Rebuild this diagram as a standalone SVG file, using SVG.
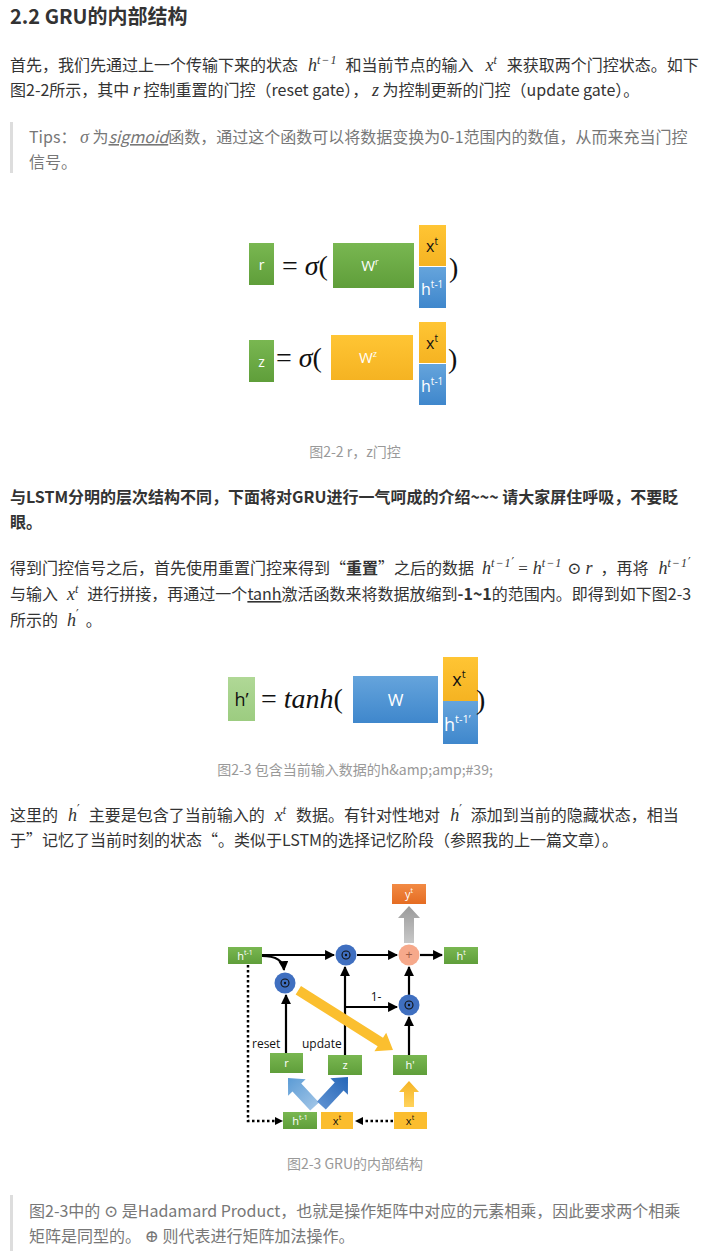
<svg xmlns="http://www.w3.org/2000/svg" width="703" height="1252" viewBox="0 0 703 1252">
<defs>
<style>
.h{font-family:"Noto Sans CJK SC","Noto Sans",sans-serif;font-size:20px;font-weight:700;fill:#333}
.p{font-family:"Noto Sans CJK SC","Noto Sans",sans-serif;font-size:16px;fill:#333}
.b{font-weight:700}
.g{fill:#777}
.cap{font-family:"Noto Sans CJK SC","Noto Sans",sans-serif;font-size:14px;fill:#999}
.m{font-family:"Liberation Serif","DejaVu Serif",serif;font-style:italic;font-size:18px}
.mr{font-family:"Liberation Serif","DejaVu Serif",serif;font-size:17px}
.s{font-family:"Liberation Serif","DejaVu Serif",serif;font-style:italic;font-size:12px;letter-spacing:1px}
.pr{font-family:"DejaVu Serif",serif;font-size:12px}
.eq{font-family:"Liberation Serif","DejaVu Serif",serif;font-size:28px;fill:#111}
.bx{font-family:"Open Sans","Liberation Sans",sans-serif;fill:#fff}
.bk{font-family:"Open Sans","Liberation Sans",sans-serif;fill:#111}
.lbl{font-family:"Open Sans","Liberation Sans",sans-serif;font-size:12px;fill:#111}
.ln{stroke:#000;stroke-width:2.2;fill:none}
.dt{stroke:#000;stroke-width:2.5;fill:none;stroke-dasharray:2.5 2.5}
.bar{fill:#ddd}
</style>
<linearGradient id="gGreen" x1="0" y1="0" x2="0" y2="1"><stop offset="0" stop-color="#79b751"/><stop offset="1" stop-color="#5f9e3a"/></linearGradient>
<linearGradient id="gLGreen" x1="0" y1="0" x2="0" y2="1"><stop offset="0" stop-color="#b0d896"/><stop offset="1" stop-color="#9ccc80"/></linearGradient>
<linearGradient id="gYel" x1="0" y1="0" x2="0" y2="1"><stop offset="0" stop-color="#ffc534"/><stop offset="1" stop-color="#f5b322"/></linearGradient>
<linearGradient id="gBlue" x1="0" y1="0" x2="0" y2="1"><stop offset="0" stop-color="#65a4dc"/><stop offset="1" stop-color="#3f87cc"/></linearGradient>
<linearGradient id="gOr" x1="0" y1="0" x2="0" y2="1"><stop offset="0" stop-color="#f28a44"/><stop offset="1" stop-color="#e56c22"/></linearGradient>
<linearGradient id="gGray" x1="0" y1="0" x2="0" y2="1"><stop offset="0" stop-color="#9a9a9a"/><stop offset="1" stop-color="#c8c8c8"/></linearGradient>
<linearGradient id="gBA" x1="0" y1="0" x2="0" y2="1"><stop offset="0" stop-color="#5b9bd5"/><stop offset="1" stop-color="#9dc3e6"/></linearGradient>
<linearGradient id="gBB" x1="0" y1="0" x2="0" y2="1"><stop offset="0" stop-color="#2566b8"/><stop offset="1" stop-color="#5b8fd0"/></linearGradient>
<linearGradient id="gYA" x1="0" y1="0" x2="0" y2="1"><stop offset="0" stop-color="#f5b323"/><stop offset="1" stop-color="#ffd35c"/></linearGradient>
<marker id="ah" viewBox="0 0 10 10" refX="9" refY="5" markerWidth="4.5" markerHeight="4.5" orient="auto"><path d="M0,0 L10,5 L0,10 Z" fill="#000"/></marker>
<g id="odot"><circle r="10.5" fill="#3f6fc0"/><circle r="4" fill="none" stroke="#111" stroke-width="1.1"/><circle r="1.2" fill="#111"/></g>
</defs>
<rect width="703" height="1252" fill="#fff"/>

<g id="heading"><text class="h" x="10" y="24">2.2 GRU的内部结构</text></g>

<g id="para1">
<text class="p" x="10" y="71">首先，我们先通过上一个传输下来的状态<tspan class="m" dx="10">h</tspan><tspan class="s" dy="-7">t−1</tspan><tspan dy="7" dx="8">和当前节点的输入</tspan><tspan class="m" dx="12">x</tspan><tspan class="s" dy="-7">t</tspan><tspan dy="7" dx="9">来获取两个门控状态。如下</tspan></text>
<text class="p" x="10" y="96">图2-2所示，其中 <tspan class="m">r</tspan> 控制重置的门控（reset gate）， <tspan class="m">z</tspan> 为控制更新的门控（update gate）。</text>
</g>

<g id="tips1">
<rect class="bar" x="10" y="122" width="3" height="51"/>
<text class="p g" x="29" y="143">Tips： <tspan class="m">σ</tspan> 为<tspan font-style="italic" text-decoration="underline">sigmoid</tspan>函数，通过这个函数可以将数据变换为0-1范围内的数值，从而来充当门控</text>
<text class="p g" x="29" y="168">信号。</text>
</g>

<g id="eq1">
<rect x="249" y="243" width="25" height="42" fill="url(#gGreen)"/>
<text class="bx" x="261.5" y="270" font-size="14" text-anchor="middle">r</text>
<text class="eq" x="282" y="275">= <tspan font-style="italic">σ</tspan>(</text>
<rect x="333" y="243" width="81" height="45" fill="url(#gGreen)"/>
<text class="bx" x="370" y="271" font-size="15" text-anchor="middle">W<tspan font-size="9" dy="-6">r</tspan></text>
<rect x="419" y="225" width="27" height="41" fill="url(#gYel)"/>
<text class="bk" x="432" y="252" font-size="16" text-anchor="middle">x<tspan font-size="10" dy="-7">t</tspan></text>
<rect x="419" y="267" width="27" height="41" fill="url(#gBlue)"/>
<text class="bx" x="421" y="295" font-size="16">h<tspan font-size="10" dy="-7">t-1</tspan></text>
<text class="eq" x="449" y="277">)</text>

<rect x="249" y="340" width="25" height="42" fill="url(#gGreen)"/>
<text class="bx" x="261.5" y="367" font-size="14" text-anchor="middle">z</text>
<text class="eq" x="276" y="367">= <tspan font-style="italic">σ</tspan>(</text>
<rect x="331" y="335" width="82" height="45" fill="url(#gYel)"/>
<text class="bx" x="368" y="363" font-size="15" text-anchor="middle">W<tspan font-size="9" dy="-6">z</tspan></text>
<rect x="419" y="322" width="27" height="41" fill="url(#gYel)"/>
<text class="bk" x="432" y="349" font-size="16" text-anchor="middle">x<tspan font-size="10" dy="-7">t</tspan></text>
<rect x="419" y="364" width="27" height="41" fill="url(#gBlue)"/>
<text class="bx" x="421" y="392" font-size="16">h<tspan font-size="10" dy="-7">t-1</tspan></text>
<text class="eq" x="448" y="368">)</text>
</g>
<g id="cap1"><text class="cap" x="355" y="457" text-anchor="middle">图2-2 r，z门控</text></g>

<g id="para2">
<text class="p b" x="10" y="503">与LSTM分明的层次结构不同，下面将对GRU进行一气呵成的介绍~~~ 请大家屏住呼吸，不要眨</text>
<text class="p b" x="10" y="528">眼。</text>
</g>

<g id="para3">
<text class="p" x="10" y="574">得到门控信号之后，首先使用重置门控来得到“<tspan class="b">重置</tspan>”之后的数据<tspan class="m" dx="8">h</tspan><tspan class="s" dy="-7">t−1</tspan><tspan class="pr">′</tspan><tspan class="mr" dy="7" dx="4">=</tspan><tspan class="m" dx="5">h</tspan><tspan class="s" dy="-7">t−1</tspan><tspan class="mr" dy="7" dx="5">⊙</tspan><tspan class="m" dx="4">r</tspan><tspan dx="8">，再将</tspan><tspan class="m" dx="10">h</tspan><tspan class="s" dy="-7">t−1</tspan><tspan class="pr">′</tspan></text>
<text class="p" x="10" y="600">与输入<tspan class="m" dx="9">x</tspan><tspan class="s" dy="-7">t</tspan><tspan dy="7" dx="8">进行拼接，再通过一个</tspan><tspan text-decoration="underline">tanh</tspan>激活函数来将数据放缩到<tspan class="b">-1~1</tspan>的范围内。即得到如下图2-3</text>
<text class="p" x="10" y="626">所示的<tspan class="m" dx="9">h</tspan><tspan class="pr" dy="-7">′</tspan><tspan dy="7" dx="7">。</tspan></text>
</g>

<g id="eq2">
<rect x="228" y="677" width="27" height="44" fill="url(#gLGreen)"/>
<text class="bk" x="241.5" y="706" font-size="18" text-anchor="middle">h’</text>
<text class="eq" x="261" y="708">= <tspan font-style="italic">tanh</tspan>(</text>
<rect x="353" y="676" width="85" height="47" fill="url(#gBlue)"/>
<text class="bx" x="395.5" y="706" font-size="17" text-anchor="middle">W</text>
<rect x="443" y="657" width="35" height="44" fill="url(#gYel)"/>
<text class="bk" x="459" y="686" font-size="18" text-anchor="middle">x<tspan font-size="11" dy="-8">t</tspan></text>
<rect x="443" y="701" width="35" height="43" fill="url(#gBlue)"/>
<text class="bx" x="444" y="731" font-size="18">h<tspan font-size="11" dy="-8">t-1’</tspan></text>
<text class="eq" x="476" y="709">)</text>
</g>
<g id="cap2"><text class="cap" x="355" y="775" text-anchor="middle">图2-3 包含当前输入数据的h&amp;amp;amp;#39;</text></g>

<g id="para4">
<text class="p" x="10" y="821">这里的<tspan class="m" dx="10">h</tspan><tspan class="pr" dy="-7">′</tspan><tspan dy="7" dx="9">主要是包含了当前输入的</tspan><tspan class="m" dx="10">x</tspan><tspan class="s" dy="-7">t</tspan><tspan dy="7" dx="9">数据。有针对性地对</tspan><tspan class="m" dx="10">h</tspan><tspan class="pr" dy="-7">′</tspan><tspan dy="7" dx="9">添加到当前的隐藏状态，相当</tspan></text>
<text class="p" x="10" y="846">于”记忆了当前时刻的状态“。类似于LSTM的选择记忆阶段（参照我的上一篇文章）。</text>
</g>

<g id="gru">
<g id="connectors">
<line class="ln" x1="262" y1="955" x2="334" y2="955" marker-end="url(#ah)"/>
<line class="ln" x1="357" y1="955" x2="397" y2="955" marker-end="url(#ah)"/>
<line class="ln" x1="420" y1="955" x2="442" y2="955" marker-end="url(#ah)"/>
<path class="ln" d="M262,956 Q283,956 284,970" marker-end="url(#ah)"/>
<line class="ln" x1="286" y1="1053" x2="286" y2="995" marker-end="url(#ah)"/>
<line class="ln" x1="345" y1="1055" x2="345" y2="967" marker-end="url(#ah)"/>
<line class="ln" x1="345" y1="1007" x2="397" y2="1007" marker-end="url(#ah)"/>
<line class="ln" x1="409" y1="1055" x2="409" y2="1017" marker-end="url(#ah)"/>
<line class="ln" x1="409" y1="995" x2="409" y2="967" marker-end="url(#ah)"/>
<path class="dt" d="M248,965 L248,1121 L278,1121"/>
<path d="M283,1121 L275,1117 L275,1125 Z" fill="#000"/>
<line class="dt" x1="393" y1="1121" x2="362" y2="1121"/>
<path d="M355,1121 L363,1117 L363,1125 Z" fill="#000"/>
<polygon points="409,906 420,918 414,918 414,943 404,943 404,918 398,918" fill="url(#gGray)"/>
<polygon points="409,1081 419,1092 414,1092 414,1107 404,1107 404,1092 399,1092" fill="url(#gYA)"/>
<polygon transform="translate(288,1078) rotate(-43)" points="0,0 12,13 6,13 6,39 -6,39 -6,13 -12,13" fill="url(#gBA)"/>
<polygon transform="translate(348,1077) rotate(43)" points="0,0 12,13 6,13 6,39 -6,39 -6,13 -12,13" fill="url(#gBB)"/>
<polygon transform="translate(393,1050) rotate(122.3)" points="0,0 11,15 5,15 5,112 -5,112 -5,15 -11,15" fill="#fbbf2f"/>
<text class="lbl" x="376" y="1001" text-anchor="middle">1-</text>
<text class="lbl" x="252" y="1048">reset</text>
<text class="lbl" x="302" y="1048">update</text>
</g>
<g id="n-yt"><rect x="392" y="884" width="34" height="20" fill="url(#gOr)"/><text class="bx" x="409" y="898" font-size="11" text-anchor="middle">y<tspan font-size="7" dy="-5">t</tspan></text></g>
<g id="n-hprev"><rect x="228" y="947" width="34" height="17" fill="url(#gGreen)"/><text class="bx" x="245" y="960" font-size="11" text-anchor="middle">h<tspan font-size="7" dy="-5">t-1</tspan></text></g>
<g id="n-odot1"><use href="#odot" x="346" y="955"/></g>
<g id="n-plus"><circle cx="409" cy="955" r="10.5" fill="#f6a98b"/><text x="409" y="959" font-family="Liberation Sans,sans-serif" font-size="12" fill="#a0604a" text-anchor="middle">+</text></g>
<g id="n-ht"><rect x="444" y="947" width="34" height="17" fill="url(#gGreen)"/><text class="bx" x="461" y="960" font-size="11" text-anchor="middle">h<tspan font-size="7" dy="-5">t</tspan></text></g>
<g id="n-odot2"><use href="#odot" x="285" y="983"/></g>
<g id="n-odot3"><use href="#odot" x="409" y="1005"/></g>
<g id="n-r"><rect x="270" y="1053" width="33" height="20" fill="url(#gGreen)"/><text class="bx" x="286.5" y="1067" font-size="11" text-anchor="middle">r</text></g>
<g id="n-z"><rect x="328" y="1055" width="34" height="20" fill="url(#gGreen)"/><text class="bx" x="345" y="1069" font-size="11" text-anchor="middle">z</text></g>
<g id="n-hp"><rect x="393" y="1055" width="34" height="20" fill="url(#gGreen)"/><text class="bx" x="410" y="1069" font-size="11" text-anchor="middle">h'</text></g>
<g id="n-hprev2"><rect x="283" y="1112" width="34" height="17" fill="url(#gGreen)"/><text class="bx" x="300" y="1125" font-size="11" text-anchor="middle">h<tspan font-size="7" dy="-5">t-1</tspan></text></g>
<g id="n-xt1"><rect x="321" y="1112" width="32" height="17" fill="#fbbd2e"/><text class="bk" x="337" y="1125" font-size="11" text-anchor="middle">x<tspan font-size="7" dy="-5">t</tspan></text></g>
<g id="n-xt2"><rect x="394" y="1112" width="33" height="17" fill="#fbbd2e"/><text class="bk" x="410" y="1125" font-size="11" text-anchor="middle">x<tspan font-size="7" dy="-5">t</tspan></text></g>
</g>
<g id="cap3"><text class="cap" x="355" y="1169" text-anchor="middle">图2-3 GRU的内部结构</text></g>

<g id="tips2">
<rect class="bar" x="10" y="1195" width="3" height="56"/>
<text class="p g" x="29" y="1217">图2-3中的 <tspan class="mr">⊙</tspan> 是Hadamard Product，也就是操作矩阵中对应的元素相乘，因此要求两个相乘</text>
<text class="p g" x="29" y="1242">矩阵是同型的。 <tspan class="mr">⊕</tspan> 则代表进行矩阵加法操作。</text>
</g>
</svg>
